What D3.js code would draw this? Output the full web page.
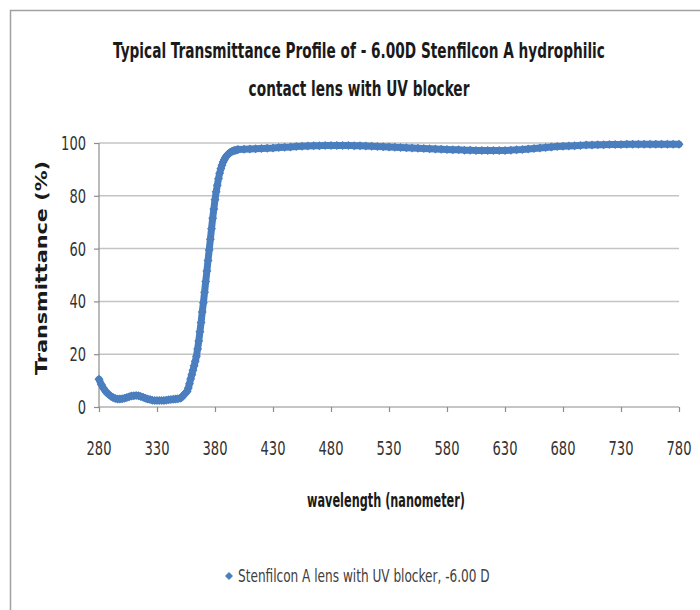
<!DOCTYPE html>
<html>
<head>
<meta charset="utf-8">
<script src="https://cdn.jsdelivr.net/npm/d3@7"></script>
<style>
  body { margin: 0; background: #fff; }
  text { font-family: "DejaVu Sans Condensed", "Liberation Sans Narrow", sans-serif; }
</style>
</head>
<body>
<svg id="canvas"></svg>
<script>
// transmittance profile
let titleLines = ['Typical Transmittance Profile of  - 6.00D Stenfilcon A hydrophilic', 'contact lens with UV blocker']
let seriesName = 'Stenfilcon A lens with UV blocker, -6.00 D'
let xTitle = 'wavelength (nanometer)'
let yTitle = 'Transmittance (%)'

let xTicks = [280, 330, 380, 430, 480, 530, 580, 630, 680, 730, 780]
let yTicks = [0, 20, 40, 60, 80, 100]

// 280-348 nm every 2 nm
let wlLow = d3.range(280, 350, 2)
let tLow = [10.5, 8.5, 7.0, 5.8, 4.9, 4.2, 3.6, 3.2, 3.0, 3.0,
            3.1, 3.3, 3.6, 3.9, 4.2, 4.3, 4.4, 4.3, 4.0, 3.7,
            3.3, 3.0, 2.8, 2.6, 2.5, 2.5, 2.5, 2.5, 2.5, 2.6,
            2.7, 2.8, 2.9, 3.0, 3.1]

// 350-400 nm every 1 nm (the cut-on edge)
let wlEdge = d3.range(350, 401, 1)
let tEdge = [3.3, 3.6, 4.0, 4.5, 5.0, 5.5, 6.0, 7.2, 8.8, 10.6,
             12.2, 13.9, 15.6, 17.3, 19.2, 22, 25, 28.5, 32, 36,
             39.5, 43.5, 47.5, 51.5, 55.5, 59.5, 63.5, 67.5, 71.5, 75,
             78.5, 81.5, 84, 86.5, 88.5, 90.2, 91.6, 92.8, 93.7, 94.5,
             95.1, 95.6, 96.0, 96.4, 96.7, 96.9, 97.1, 97.2, 97.3, 97.4,
             97.5]

// 405-780 nm every 5 nm
let wlHigh = d3.range(405, 781, 5)
let tHigh = [97.6, 97.7, 97.8, 97.9, 98.0, 98.1, 98.3, 98.4, 98.5, 98.7,
             98.8, 98.9, 99.0, 99.0, 99.1, 99.1, 99.1, 99.1, 99.1, 99.0,
             99.0, 98.9, 98.8, 98.7, 98.6, 98.5, 98.4, 98.3, 98.2, 98.1,
             98.0, 97.9, 97.8, 97.7, 97.6, 97.5, 97.4, 97.4, 97.3, 97.3,
             97.2, 97.2, 97.2, 97.2, 97.2, 97.2, 97.3, 97.4, 97.5, 97.7,
             97.9, 98.1, 98.3, 98.5, 98.7, 98.8, 98.9, 99.0, 99.1, 99.2,
             99.2, 99.3, 99.3, 99.4, 99.4, 99.4, 99.5, 99.5, 99.5, 99.5,
             99.5, 99.5, 99.5, 99.5, 99.5, 99.5]

let wavelengths = wlLow.concat(wlEdge, wlHigh)
let transmittance = tLow.concat(tEdge, tHigh)

//dimensions
let width = 700
let height = 610
let plot = { left: 99, right: 679, top: 143, bottom: 407 }
let blue = '#4a7ebf'

let points = wavelengths.map((w, i) => ({ w: w, t: transmittance[i] }))

let canvas = d3.select('#canvas')
                .attr('width', width)
                .attr('height', height)

let xScale = d3.scaleLinear().domain([280, 780]).range([plot.left, plot.right])
let yScale = d3.scaleLinear().domain([0, 100]).range([plot.bottom, plot.top])

let diamond = (r) => 'M0,' + (-r) + 'L' + r + ',0L0,' + r + 'L' + (-r) + ',0Z'

// the picture uses a narrow font; squeeze a text sideways to a given width
let squeeze = (parent, str, x, y, size, targetWidth, anchor, opts) => {
    opts = opts || {}
    let g = parent.append('g')
    let t = g.append('text')
                .attr('font-size', size)
                .attr('font-weight', opts.weight || 'normal')
                .attr('fill', opts.fill || '#1a1a1a')
                .attr('text-anchor', anchor)
                .text(str)
    if (opts.family) t.attr('font-family', opts.family)
    let natural = t.node().getComputedTextLength()
    let sx = targetWidth / natural
    g.attr('transform', 'translate(' + x + ',' + y + ')' + (opts.rotate ? ' rotate(' + opts.rotate + ')' : '') + ' scale(' + sx + ',1)')
    return g
}

// chart border (top and left only show in the picture)
canvas.append('path')
        .attr('d', 'M10.5,' + height + 'V10.5H' + width)
        .attr('fill', 'none')
        .attr('stroke', '#a0a0a0')
        .attr('stroke-width', 1.5)

// title
squeeze(canvas, titleLines[0], 359, 58, 21, 492, 'middle', { weight: 'bold' })
squeeze(canvas, titleLines[1], 359, 96, 21, 221, 'middle', { weight: 'bold' })

// gridlines
canvas.append('g')
        .selectAll('line')
        .data(yTicks.filter((t) => t > 0))
        .enter()
        .append('line')
        .attr('x1', plot.left)
        .attr('x2', plot.right)
        .attr('y1', (t) => yScale(t))
        .attr('y2', (t) => yScale(t))
        .attr('stroke', '#c4c4c4')
        .attr('stroke-width', 1.5)

// axes (tick labels drawn separately so they can be squeezed)
let xAxis = d3.axisBottom(xScale).tickValues(xTicks).tickSize(5).tickFormat('')
let yAxis = d3.axisLeft(yScale).tickValues(yTicks).tickSize(5).tickFormat('')

let xg = canvas.append('g')
                .attr('transform', 'translate(0,' + plot.bottom + ')')
                .call(xAxis)
let yg = canvas.append('g')
                .attr('transform', 'translate(' + plot.left + ',0)')
                .call(yAxis)

;[xg, yg].forEach((g) => {
    g.select('.domain').attr('stroke', '#8c8c8c').attr('stroke-width', 1.2)
    g.selectAll('.tick line').attr('stroke', '#8c8c8c').attr('stroke-width', 1.2)
})
yg.select('.domain').attr('d', 'M0,' + plot.top + 'V' + plot.bottom)
xg.select('.domain').attr('d', 'M0,0H' + (plot.right - plot.left)).attr('transform', 'translate(' + plot.left + ',0)')

xTicks.forEach((t) => {
    squeeze(canvas, String(t), xScale(t), 455, 19, 25, 'middle', { fill: '#333' })
})
yTicks.forEach((t) => {
    let s = String(t)
    squeeze(canvas, s, 86, yScale(t) + 7, 19, s.length * 8.3, 'end', { fill: '#333' })
})

// axis titles
squeeze(canvas, yTitle, 47, 268, 15, 214, 'middle',
        { weight: 'bold', rotate: -90, family: '"DejaVu Sans", sans-serif' })
squeeze(canvas, xTitle, 386, 507, 19, 158, 'middle', { weight: 'bold' })

// series: thick line underneath, diamond markers on each reading
let line = d3.line()
                .x((p) => xScale(p.w))
                .y((p) => yScale(p.t))

canvas.append('path')
        .datum(points)
        .attr('d', line)
        .attr('fill', 'none')
        .attr('stroke', blue)
        .attr('stroke-width', 7)
        .attr('stroke-linejoin', 'round')
        .attr('stroke-linecap', 'round')

canvas.append('g')
        .selectAll('path')
        .data(points)
        .enter()
        .append('path')
        .attr('d', diamond(4.5))
        .attr('transform', (p) => 'translate(' + xScale(p.w) + ',' + yScale(p.t) + ')')
        .attr('fill', blue)

// legend
canvas.append('path')
        .attr('d', diamond(4))
        .attr('transform', 'translate(229,576)')
        .attr('fill', blue)
squeeze(canvas, seriesName, 238, 582, 18, 252, 'start', { fill: '#404040' })
</script>
</body>
</html>
